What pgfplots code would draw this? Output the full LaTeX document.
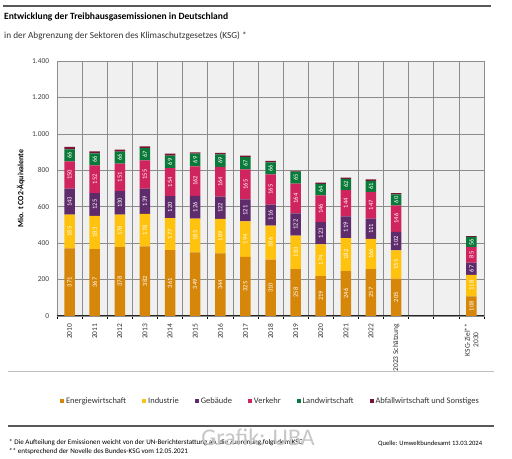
\documentclass[border=0pt]{standalone}
\usepackage{pgfplots}
\pgfplotsset{compat=1.18}
\usepackage{pgfplotstable}
\usepackage{fontspec}
\setmainfont{Carlito}
\definecolor{cE}{HTML}{D6870A}
\definecolor{cI}{HTML}{FFC20E}
\definecolor{cG}{HTML}{5E2C6B}
\definecolor{cV}{HTML}{D0245E}
\definecolor{cL}{HTML}{0A7A3A}
\definecolor{cA}{HTML}{7B1233}
\definecolor{cT}{HTML}{4A4A4A}
\definecolor{bg}{HTML}{F0F0F0}
\definecolor{grd}{HTML}{8C8C8C}
\pgfplotstableread{
x E I G V L A T Z
0 371 185 143 150 66 13 928 0
1 367 183 125 152 66 11 904 0
2 378 178 130 151 66 11 914 0
3 382 178 139 155 67 10 931 0
4 361 177 120 154 69 10 891 0
5 349 185 126 162 69 8 899 0
6 344 189 122 164 69 7 895 0
7 325 194 121 165 67 8 880 0
8 310 186 116 165 66 9 852 0
9 258 183 122 164 65 5 797 0
10 219 174 123 146 64 6 732 0
11 246 182 119 144 62 7 760 0
12 257 166 111 147 61 8 750 0
13 205 155 102 146 60 6 674 0
16 108 118 67 85 56 4 438 0
}\data
\pgfplotsset{
  seg/.style={fill=#1, draw=none, nodes near coords, point meta=explicit,
    every node near coord/.append style={anchor=center, rotate=90,
      text=white, font=\fontsize{6.5}{7}\selectfont, inner sep=0pt}},
}
\begin{document}
\begin{tikzpicture}
\useasboundingbox (0bp,0bp) rectangle (512bp,459bp);
\fill[white] (0bp,0bp) rectangle (512bp,459bp);
\draw[black!65, line width=1.5bp] (3bp,453bp) -- (491bp,453bp);
\node[anchor=west, inner sep=0pt, font=\fontsize{9.6}{11}\selectfont\bfseries] at (4bp,442bp) {Entwicklung der Treibhausgasemissionen in Deutschland};
\node[anchor=west, inner sep=0pt, text=black!80, font=\fontsize{9.3}{11}\selectfont] at (4bp,423bp) {in der Abgrenzung der Sektoren des Klimaschutzgesetzes (KSG) *};
\begin{axis}[at={(57bp,143bp)}, anchor=south west, scale only axis, width=427bp, height=255bp,
  ybar stacked, bar width=10.5bp, enlargelimits=false,
  xmin=-0.5, xmax=16.5, ymin=0, ymax=1400,
  xtick={0,1,2,3,4,5,6,7,8,9,10,11,12,13,16},
  xticklabels={2010,2011,2012,2013,2014,2015,2016,2017,2018,2019,2020,2021,2022,2023 Schätzung,{KSG-Ziel**\\2030}},
  minor xtick={-0.5,0.5,...,16.5},
  xminorgrids, ymajorgrids, ytick={0,200,...,1400},
  grid style={grd, line width=0.6bp},
  minor grid style={grd, line width=0.6bp},
  major x tick style={draw=none},
  minor x tick style={black, line width=0.6bp},
  y tick style={draw=none},
  tick align=outside, tick pos=left, minor tick length=3bp,
  axis line style={grd, line width=0.6bp},
  axis background/.style={fill=bg},
  /pgf/number format/assume math mode=true,
  /pgf/number format/1000 sep={.},
  yticklabel style={font=\fontsize{7.5}{9}\selectfont, text=black!75},
  xticklabel style={rotate=90, anchor=east, align=center, font=\fontsize{7.5}{8.5}\selectfont, text=black!80},
  ylabel={Mio. t CO2-Äquivalente},
  y label style={at={(axis description cs:-0.085,0.5)}, anchor=center, font=\fontsize{8}{9}\selectfont\bfseries},
  legend style={at={(0.5,-0.333)}, anchor=center, draw=none, fill=none, font=\fontsize{8.5}{10}\selectfont, text=black!80,
    legend columns=6, /tikz/every even column/.append style={column sep=14bp}},
  legend image code/.code={\fill[#1] (0bp,-2bp) rectangle (4bp,2bp);},
]
\addplot[seg=cE] table[x=x, y=E, meta=E] {\data};
\addplot[seg=cI] table[x=x, y=I, meta=I] {\data};
\addplot[seg=cG] table[x=x, y=G, meta=G] {\data};
\addplot[seg=cV] table[x=x, y=V, meta=V] {\data};
\addplot[seg=cL] table[x=x, y=L, meta=L] {\data};
\addplot[fill=cA, draw=none] table[x=x, y=A] {\data};
\addplot[draw=none, fill=none, forget plot, nodes near coords, point meta=explicit,
  every node near coord/.append style={anchor=south, yshift=4bp, fill=cT, text=white,
    font=\fontsize{7}{7.5}\selectfont\bfseries, inner xsep=3.5bp, inner ysep=2.5bp}] table[x=x, y=Z, meta=T] {\data};
\legend{Energiewirtschaft, Industrie, Gebäude, Verkehr, Landwirtschaft, Abfallwirtschaft und Sonstiges}
\draw[black!85, line width=1.2bp] (axis description cs:0,0) -- (axis description cs:1,0);
\end{axis}
\draw[black!25, line width=1bp] (8bp,87bp) -- (494bp,87bp);
\draw[black!65, line width=1.5bp] (8bp,33bp) -- (494bp,33bp);
\node[anchor=west, inner sep=0pt, font=\fontsize{7.1}{7.5}\selectfont] at (9bp,16bp) {* Die Aufteilung der Emissionen weicht von der UN-Berichterstattung ab, die Zuordnung folgt dem KSG};
\node[anchor=west, inner sep=0pt, font=\fontsize{7.1}{7.5}\selectfont] at (9bp,7bp) {** entsprechend der Novelle des Bundes-KSG vom 12.05.2021};
\node[anchor=west, inner sep=0pt, font=\fontsize{6.6}{7}\selectfont] at (378bp,15bp) {Quelle: Umweltbundesamt 13.03.2024};
\node[inner sep=0pt, text=black!22, font=\fontsize{24}{26}\selectfont] at (258bp,22bp) {Grafik: UBA};
\end{tikzpicture}
\end{document}
